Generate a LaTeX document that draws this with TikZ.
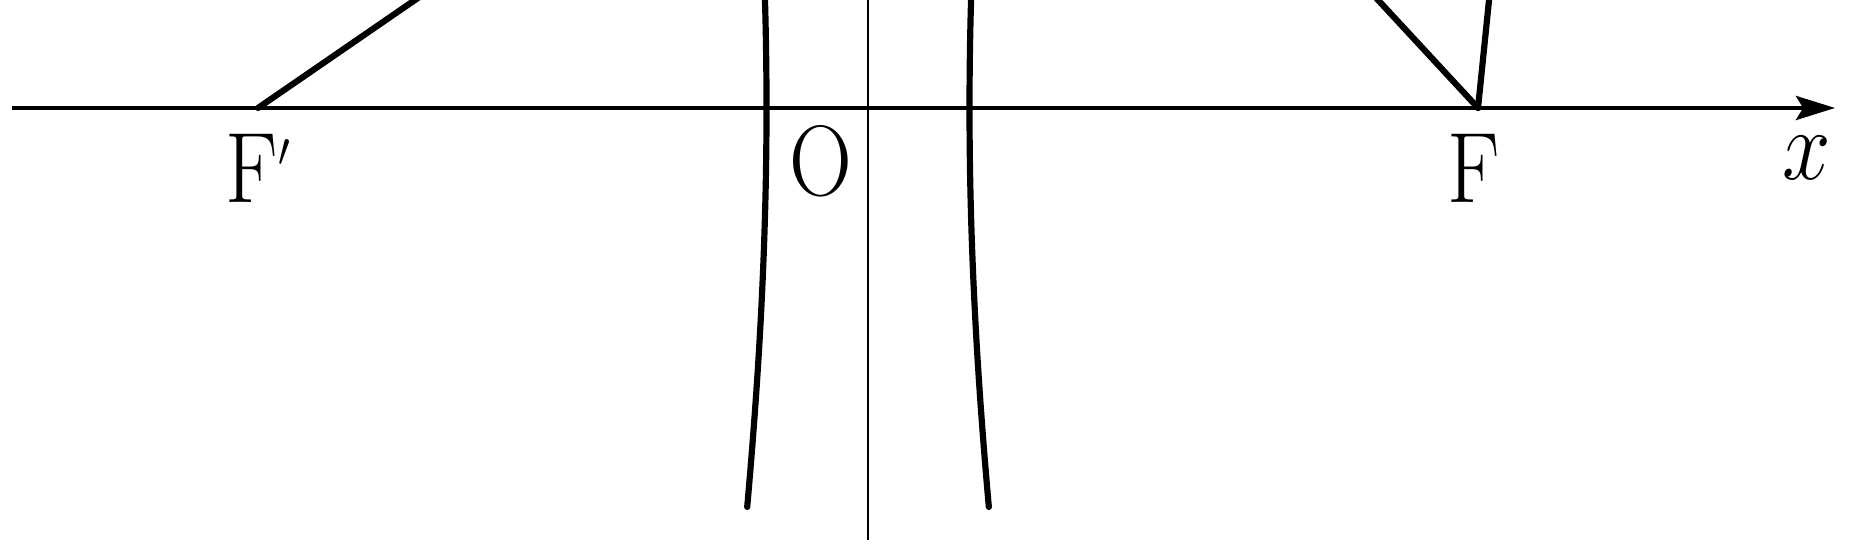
\documentclass[tikz,border=0pt]{standalone}
\usetikzlibrary{arrows.meta,calc}
\newcommand{\narrowtext}[1]{\scalebox{0.87}[1]{#1}}
\begin{document}
\begin{tikzpicture}[x={(0.207pt,0)},y={(0,-0.207pt)},
  font=\fontsize{20}{24}\selectfont,
  axisline/.style={line width=0.78pt},
  yaxisline/.style={line width=0.6pt},
  curveline/.style={line width=1.28pt,line cap=round,line join=round},
  lbl/.style={inner sep=0pt,anchor=base}]
\useasboundingbox (0,0) rectangle (1849,553);
\clip (0,0) rectangle (1849,553);
% points
\coordinate (Fpp) at (258,108);
\coordinate (Fp) at (1478,108);
\coordinate (axL) at (12,108);
\coordinate (axR) at (1835,108);
\coordinate (ayT) at (868,-10);
\coordinate (ayB) at (868,540);
\coordinate (Ptop1) at (415,0);
\coordinate (Ptop2) at (1378,0);
\coordinate (Ptop3) at (1489,0);
% axes
\draw[axisline,-{Stealth[length=8.1pt,width=5pt,inset=1.5pt]}] (axL) -- (axR);
\draw[yaxisline] (ayT) -- (ayB);
% hyperbola branches
\draw[curveline] plot[domain=-30:507,samples=80,smooth] ({868+sqrt(10302+0.027*(\x-108)*(\x-108))},\x);
\draw[curveline] plot[domain=-30:507,samples=80,smooth] ({868-sqrt(10302+0.027*(\x-108)*(\x-108))},\x);
% focal lines
\draw[curveline] (Fpp) -- ($(Fpp)!1.2!(Ptop1)$);
\draw[curveline] (Fp) -- ($(Fp)!1.2!(Ptop2)$);
\draw[curveline] (Fp) -- ($(Fp)!1.2!(Ptop3)$);
% labels
\node[lbl] (Fplab) at (259,203) {\narrowtext{$\mathrm{F}^{\scriptscriptstyle\prime}$}};
\node[lbl] (Flab) at (1474,203) {\narrowtext{$\mathrm{F}$}};
\node[lbl] (Olab) at (821,196) {\narrowtext{$\mathrm{O}$}};
\node[lbl] (xlab) at (1807,180) {\narrowtext{$x$}};
\end{tikzpicture}
\end{document}
